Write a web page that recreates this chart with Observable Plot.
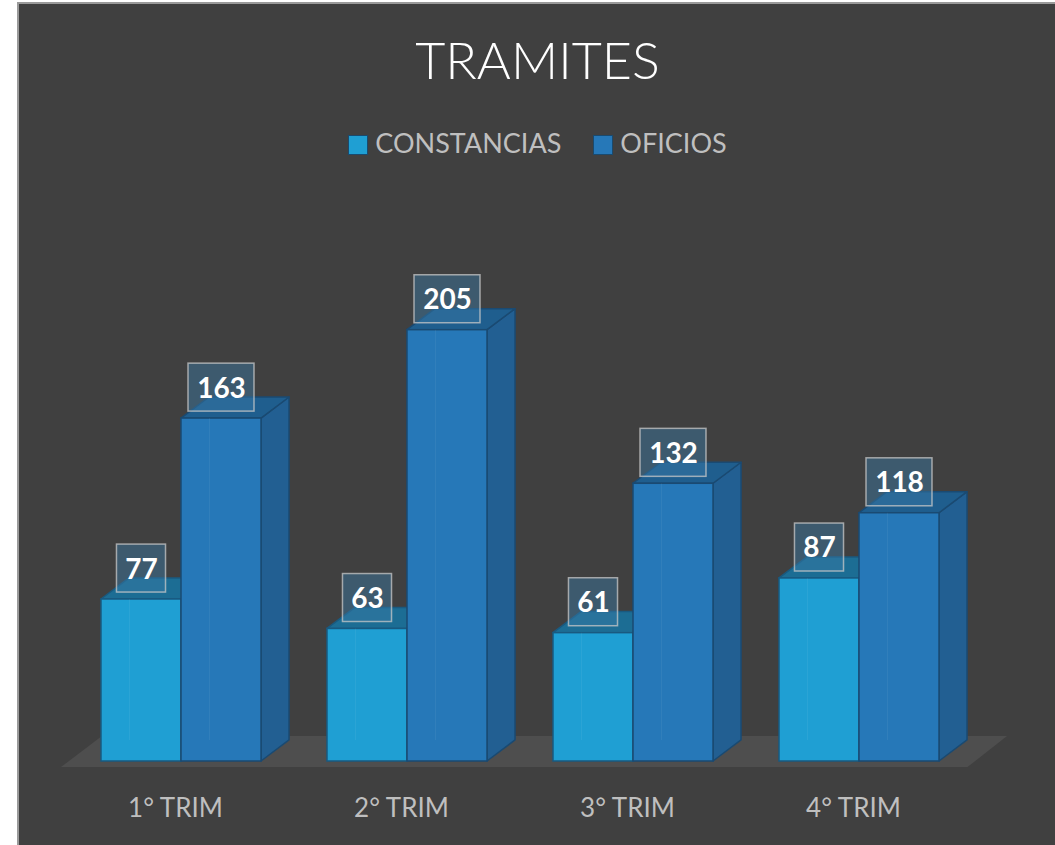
<!DOCTYPE html>
<html>
<head>
<meta charset="utf-8">
<script src="https://cdn.jsdelivr.net/npm/d3@7"></script>
<script src="https://cdn.jsdelivr.net/npm/@observablehq/plot@0.6"></script>
<style>
  html, body { margin: 0; padding: 0; background: #ffffff; }
  #card {
    position: absolute; left: 17px; top: 2px; width: 1040px; height: 846px;
    box-sizing: border-box; background: #404040;
    border-left: 2px solid #9a9a9a; border-top: 2px solid #9a9a9a;
    font-family: Lato, "Open Sans", sans-serif; overflow: hidden;
  }
  #title {
    position: absolute; left: 0; width: 1037px; top: 29px; text-align: center;
    color: #ffffff; font-size: 52px; line-height: 52px; font-weight: 300;
  }
  #legend {
    position: absolute; left: 0; width: 1037px; top: 126px; text-align: center;
    color: #bfbfbf; font-size: 27px; line-height: 26px; white-space: nowrap;
  }
  .item { display: inline-block; margin: 0 16px; }
  .sw { display: inline-block; width: 20px; height: 20px; margin-right: 7px;
        vertical-align: -2px; box-sizing: border-box; border: 1.5px solid #1a4a6e; }
  #chart { position: absolute; left: 0; top: 169px; }
</style>
</head>
<body>
<div id="card">
  <div id="title">TRAMITES</div>
  <div id="legend"></div>
  <div id="chart"></div>
</div>
<script>
// ---- data ----
const categories = ["1° TRIM", "2° TRIM", "3° TRIM", "4° TRIM"];
const seriesNames = ["CONSTANCIAS", "OFICIOS"];
const constancias = [77, 63, 61, 87];
const oficios = [163, 205, 132, 118];

// ---- styling ----
const front = ["#1f9fd3", "#2678b8"];
const side = ["#1b7fae", "#225f92"];
const top_ = ["#1c6d94", "#1f5e8e"];
const edge = ["#195a80", "#1a4a72"];

// legend
const legend = document.getElementById("legend");
seriesNames.forEach((n, s) => {
  const it = document.createElement("span");
  it.className = "item";
  it.innerHTML = `<span class="sw" style="background:${front[s]}"></span>${n}`;
  legend.appendChild(it);
});

// ---- geometry (data units: x = group index, y = value) ----
const W = 0.354;   // bar width in group units
const DX = 0.124;  // depth offset x
const DY = 10;     // depth offset y (value units)

const bars = [];
[constancias, oficios].forEach((vals, s) => {
  vals.forEach((v, i) => {
    const x0 = i - W + s * W;
    bars.push({s, i, v, x0, x1: x0 + W, cx: x0 + W / 2, key: `${s}-${i}`});
  });
});

const sides = bars.flatMap(b => [
  {key: b.key, s: b.s, x: b.x1, y1: 0, y2: b.v},
  {key: b.key, s: b.s, x: b.x1 + DX, y1: DY, y2: b.v + DY}
]);
const tops = bars.flatMap(b => [
  {key: b.key, s: b.s, y: b.v, x1: b.x0, x2: b.x1},
  {key: b.key, s: b.s, y: b.v + DY, x1: b.x0 + DX, x2: b.x1 + DX}
]);
const floor = [
  {y: -2.9, x1: -0.531, x2: 3.48},
  {y: 11.9, x1: -0.35, x2: 3.655}
];

const marks = [
  Plot.areaX(floor, {y: "y", x1: "x1", x2: "x2", fill: "#4e4e4e", curve: "linear"})
];
for (const s of [0, 1]) {
  const bs = bars.filter(b => b.s === s);
  marks.push(
    Plot.areaY(sides.filter(d => d.s === s), {x: "x", y1: "y1", y2: "y2", z: "key", fill: side[s], stroke: edge[s], strokeWidth: 1.5, curve: "linear"}),
    Plot.areaX(tops.filter(d => d.s === s), {y: "y", x1: "x1", x2: "x2", z: "key", fill: top_[s], stroke: edge[s], strokeWidth: 1.5, curve: "linear"}),
    Plot.rect(bs, {x1: "x0", x2: "x1", y1: 0, y2: "v", fill: front[s], stroke: edge[s], strokeWidth: 1.5}),
    Plot.ruleX(bs, {x: d => d.x0 + DX, y1: DY, y2: "v", stroke: "#ffffff", strokeOpacity: 0.06})
  );
}
// value labels
marks.push(
  Plot.rect(bars, {
    x1: d => d.cx - (0.067 + 0.075 * String(d.v).length) / 2,
    x2: d => d.cx + (0.067 + 0.075 * String(d.v).length) / 2,
    y1: d => d.v + 3.3, y2: d => d.v + 26.1,
    fill: "#3a7aa6", fillOpacity: 0.45, stroke: "#c8c8c8", strokeOpacity: 0.75, strokeWidth: 1.5
  }),
  Plot.text(bars, {x: "cx", y: d => d.v + 14.7, text: d => String(d.v), fill: "#ffffff",
    fontWeight: "bold", fontSize: 28, dy: 1}),
  Plot.text(categories, {x: (d, i) => i, y: () => 0, text: d => d, dx: -6, dy: 47,
    fill: "#bfbfbf", fontSize: 26})
);

const chart = Plot.plot({
  width: 1037,
  height: 672,
  marginLeft: 49,
  marginRight: 84,
  marginTop: 62,
  marginBottom: 84,
  x: {domain: [-0.5, 3.5], axis: null},
  y: {domain: [0, 250], axis: null},
  style: {background: "transparent", fontFamily: "Lato, 'Open Sans', sans-serif", overflow: "visible"},
  marks
});
document.getElementById("chart").appendChild(chart);
</script>
</body>
</html>
